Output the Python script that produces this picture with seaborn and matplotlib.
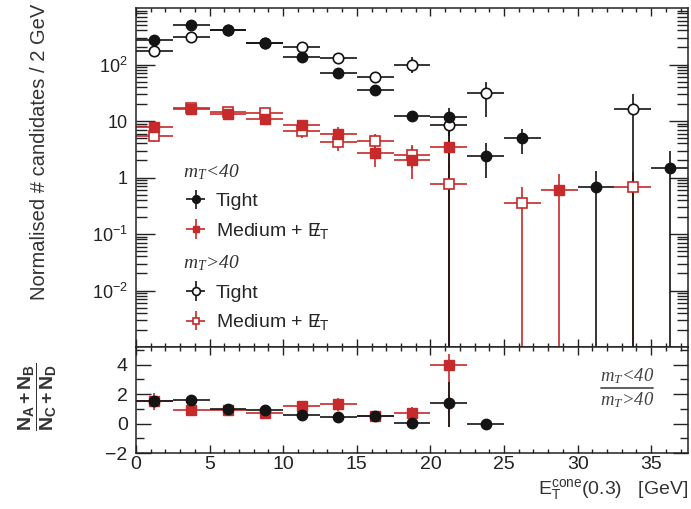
import numpy as np
import matplotlib
matplotlib.use('Agg')
import matplotlib.pyplot as plt
import seaborn as sns
from matplotlib.lines import Line2D
from matplotlib.ticker import LogLocator, MultipleLocator, NullFormatter

sns.set_theme(style='ticks')
plt.rcParams['font.family'] = ['Liberation Sans', 'DejaVu Sans']
plt.rcParams['mathtext.fontset'] = 'custom'
plt.rcParams['mathtext.rm'] = 'Liberation Sans'
plt.rcParams['mathtext.it'] = 'Liberation Serif:italic'
plt.rcParams['mathtext.bf'] = 'Liberation Sans:bold'

RED = '#c62a2a'
BLACK = '#141414'
nan = np.nan

# bin centres of E_T^cone(0.3), 2.5 GeV wide
bin_centres = [1.25, 3.75, 6.25, 8.75, 11.25, 13.75, 16.25, 18.75,
               21.25, 23.75, 26.25, 28.75, 31.25, 33.75, 36.25]
half_width = 1.25

# mT < 40, Tight
tight_lo = [270, 510, 405, 243, 138, 70, 35, 12.3, 12, 2.4, 5.0, nan, 0.67, nan, 1.5]
tight_lo_dn = [20, 25, 20, 15, 12, 8, 5, 2.5, 12, 1.4, 2.4, nan, 0.67, nan, 1.5]
tight_lo_up = [20, 25, 20, 15, 12, 8, 5, 2.5, 5, 1.6, 2.2, nan, 0.63, nan, 1.4]
# mT < 40, Medium + MET
med_lo = [7.9, 16, 13.5, 11, 8.5, 5.9, 2.75, 2.05, 3.4, nan, nan, 0.61, nan, nan, nan]
med_lo_dn = [1.5, 2.5, 2.0, 2.0, 1.7, 1.5, 1.2, 1.1, 3.4, nan, nan, 0.61, nan, nan, nan]
med_lo_up = [1.5, 2.5, 2.0, 2.0, 1.7, 1.8, 1.5, 1.4, 2.5, nan, nan, 0.56, nan, nan, nan]
# mT > 40, Tight
tight_hi = [175, 310, 400, 240, 200, 130, 59, 100, 8.5, 31, nan, nan, nan, 16, nan]
tight_hi_dn = [15, 20, 20, 15, 15, 12, 8, 29, 3, 19, nan, nan, nan, 16, nan]
tight_hi_up = [15, 20, 20, 15, 15, 12, 8, 34, 3, 19, nan, nan, nan, 14, nan]
# mT > 40, Medium + MET
med_hi = [5.5, 17, 14.5, 14, 6.6, 4.2, 4.5, 2.5, 0.78, nan, 0.35, nan, nan, 0.67, nan]
med_hi_dn = [1.2, 2.5, 2.2, 2.2, 1.5, 1.3, 1.5, 1.0, 0.78, nan, 0.35, nan, nan, 0.67, nan]
med_hi_up = [1.2, 2.5, 2.2, 2.2, 1.5, 1.5, 1.5, 1.2, 1.0, nan, 0.32, nan, nan, 0.6, nan]

# ratio mT<40 / mT>40
ratio_tight = [1.5, 1.6, 1.0, 0.95, 0.6, 0.45, 0.5, 0.05, 1.4, -0.05]
ratio_tight_dn = [0.3, 0.15, 0.12, 0.12, 0.15, 0.15, 0.15, 0.15, 1.6, 0.1]
ratio_tight_up = [0.3, 0.15, 0.12, 0.12, 0.15, 0.15, 0.15, 0.15, 1.4, 0.1]
ratio_med = [1.5, 0.9, 0.9, 0.75, 1.2, 1.3, 0.5, 0.7, 4.0]
ratio_med_dn = [0.6, 0.15, 0.2, 0.2, 0.35, 0.45, 0.2, 0.4, 4.2]
ratio_med_up = [0.6, 0.15, 0.2, 0.2, 0.35, 0.45, 0.2, 0.45, 0.7]

x = np.array(bin_centres)


def lower_err(vals, errs):
    # error bars that reach zero are drawn down to the bottom of the log axis
    v = np.array(vals, dtype=float)
    e = np.array(errs, dtype=float)
    return np.where(e >= v, v - 1e-5, e)


fig = plt.figure(figsize=(6.91, 5.09), dpi=100)
ax = fig.add_axes([136/691, 1-347/509, 552/691, 339/509])
axr = fig.add_axes([136/691, 1-453/509, 552/691, 106/509], sharex=ax)

ebkw = dict(xerr=half_width, linestyle='none', elinewidth=1.2, capsize=0)

h_mhi = ax.errorbar(x, med_hi, yerr=[lower_err(med_hi, med_hi_dn), med_hi_up],
                    fmt='s', color=RED, ms=6.5, mfc='white', mew=1.2, **ebkw)
h_mlo = ax.errorbar(x, med_lo, yerr=[lower_err(med_lo, med_lo_dn), med_lo_up],
                    fmt='s', color=RED, ms=6.5, **ebkw)
h_thi = ax.errorbar(x, tight_hi, yerr=[lower_err(tight_hi, tight_hi_dn), tight_hi_up],
                    fmt='o', color=BLACK, ms=7.5, mfc='white', mew=1.2, **ebkw)
h_tlo = ax.errorbar(x, tight_lo, yerr=[lower_err(tight_lo, tight_lo_dn), tight_lo_up],
                    fmt='o', color=BLACK, ms=7.5, **ebkw)

ax.set_yscale('log')
ax.set_ylim(1e-3, 1e3)
ax.set_xlim(0, 37.5)
ax.set_yticks([1e-2, 1e-1, 1, 10, 1e2])
ax.set_yticklabels([r'$\mathrm{10^{-2}}$', r'$\mathrm{10^{-1}}$', '1', '10',
                    r'$\mathrm{10^{2}}$'])
ax.yaxis.set_minor_locator(LogLocator(base=10, subs=np.arange(2, 10), numticks=20))
ax.yaxis.set_minor_formatter(NullFormatter())
ax.tick_params(axis='x', which='both', labelbottom=False)

nr = len(ratio_tight)
nm = len(ratio_med)
axr.errorbar(x[:nm], ratio_med, yerr=[ratio_med_dn, ratio_med_up], fmt='s',
             color=RED, ms=6.5, **ebkw)
axr.errorbar(x[:nr], ratio_tight, yerr=[ratio_tight_dn, ratio_tight_up], fmt='o',
             color=BLACK, ms=7.5, **ebkw)
axr.set_ylim(-2, 5.2)
axr.set_yticks([-2, 0, 2, 4])
axr.yaxis.set_minor_locator(MultipleLocator(1))
axr.xaxis.set_major_locator(MultipleLocator(5))
axr.xaxis.set_minor_locator(MultipleLocator(1))

for a in (ax, axr):
    for s in a.spines.values():
        s.set_linewidth(1.1)
        s.set_color('#222222')
    a.tick_params(which='both', direction='in', top=True, right=True,
                  colors='#222222', labelcolor='#222222', width=1.0)
    a.tick_params(axis='x', which='major', length=5.5)
    a.tick_params(axis='x', which='minor', length=3)

ax.tick_params(axis='y', which='major', length=14, labelsize=13, pad=6)
ax.tick_params(axis='y', which='minor', length=8)
axr.tick_params(axis='y', which='major', length=11, labelsize=14, pad=6)
axr.tick_params(axis='y', which='minor', length=6)
axr.tick_params(axis='x', which='major', labelsize=14, pad=2)

# legends: headers in italic serif like the original
hdr_font = {'family': 'Liberation Serif', 'style': 'italic', 'size': 14}
leg_kw = dict(loc='upper left', frameon=False, alignment='left', fontsize=14,
              title_fontproperties=hdr_font, handlelength=1.3, handletextpad=0.4,
              labelspacing=0.55, borderpad=0, borderaxespad=0, markerscale=0.75)
met = r'Medium + $\mathrm{E\!\!\!/_T}$'
leg1 = ax.legend([h_tlo, h_mlo], ['Tight', met], title=r'$m_T$<40',
                 bbox_to_anchor=(0.085, 0.545), **leg_kw)
ax.add_artist(leg1)
leg2 = ax.legend([h_thi, h_mhi], ['Tight', met], title=r'$m_T$>40',
                 bbox_to_anchor=(0.085, 0.275), **leg_kw)
for lg in (leg1, leg2):
    lg.get_title().set_color('#333333')

# ratio description (mT<40 over mT>40)
fig.text(627/691, 1-386/509, r'$m_T$<40', ha='center', va='bottom',
         fontsize=13.5, family='Liberation Serif', style='italic', color='#444444')
fig.text(627/691, 1-390/509, r'$m_T$>40', ha='center', va='top',
         fontsize=13.5, family='Liberation Serif', style='italic', color='#444444')
fig.add_artist(Line2D([601/691, 653/691], [1-388/509, 1-388/509],
                      color='#444444', lw=1.2))

fig.text(40/691, 1-152/509, 'Normalised # candidates / 2 GeV', rotation=90,
         ha='center', va='center', fontsize=14.5, color='#333333')
fig.text(38/691, 1-397/509, r'$\mathbf{\dfrac{N_A+N_B}{N_C+N_D}}$', rotation=90,
         ha='center', va='center', fontsize=14, color='#333333')
fig.text(688/691, 1-489/509, r'$\mathrm{E_T^{cone}}$(0.3)   [GeV]',
         ha='right', va='center', fontsize=14, color='#333333')

fig.savefig('out.png', dpi=100)
